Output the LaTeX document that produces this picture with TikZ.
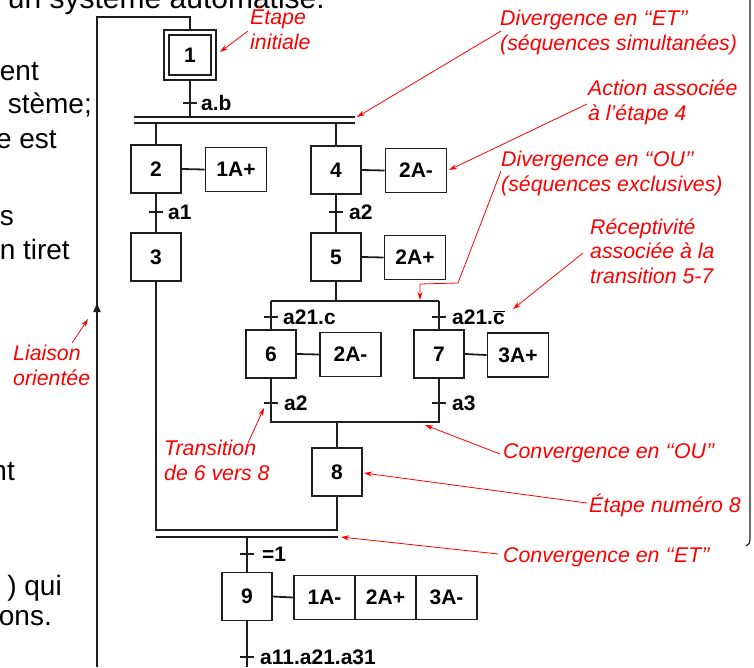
\documentclass[tikz,border=0pt]{standalone}
\usepackage{fontspec}
\setmainfont{Liberation Sans}
\usetikzlibrary{arrows.meta}
\definecolor{annot}{RGB}{255,0,0}
\definecolor{ink}{RGB}{30,30,30}
\newcommand\gtick[1]{\draw[wire] ([xshift=-7pt]#1) -- ([xshift=7pt]#1);}
\begin{document}
\begin{tikzpicture}[x=1pt,y=-1pt,
  wire/.style={draw=ink, line width=1.8pt},
  stepbox/.style={draw=ink, line width=1.9pt, fill=white, minimum width=50pt,
    minimum height=48pt, inner sep=0pt, font=\fontsize{21}{21}\selectfont\bfseries},
  actbox/.style={stepbox, minimum width=61pt, minimum height=44pt},
  cond/.style={anchor=west, inner sep=0pt, font=\fontsize{21}{21}\selectfont\bfseries},
  note/.style={text=annot, inner sep=0pt, align=left, anchor=base west,
    font=\fontsize{21.3}{24.5}\selectfont\itshape},
  pointer/.style={draw=annot, line width=0.8pt, -{Stealth[length=8pt,width=5pt]}},
  bgtext/.style={inner sep=0pt, anchor=base east, font=\fontsize{28}{28}\selectfont},
]
\useasboundingbox (0,0) rectangle (754,667);
\begin{scope}
\clip (0,0) rectangle (754,667);

% surrounding page text
\node[bgtext, font=\fontsize{30}{30}\selectfont] (bgtop) at (325,8) {un système automatisé.};
\node[bgtext] (bg1) at (39,80) {ent};
\node[bgtext] (bg2) at (92,113) {stème;};
\node[bgtext] (bg3) at (57,148) {e est};
\node[bgtext] (bg4) at (14,225) {s};
\node[bgtext] (bg5) at (70,259) {n tiret};
\node[bgtext] (bg6) at (15,480) {nt};
\node[bgtext] (bg7) at (62,595) {) qui};
\node[bgtext] (bg8) at (52,625) {ons.};
\draw[ink, line width=1.2pt] (750,-2) -- (750,538) .. controls (750,543) and (749,545) .. (746,546);

% steps and actions
\node[stepbox, minimum width=52pt, minimum height=50pt] (s1o) at (190,55) {};
\node[stepbox, minimum width=42pt, minimum height=40pt] (s1) at (190,55) {1};
\node[stepbox] (s2) at (156,169) {2};
\node[actbox] (a1) at (236,169.5) {1A+};
\node[stepbox] (s4) at (336,170) {4};
\node[actbox] (a4) at (416,170.5) {2A-};
\node[stepbox] (s3) at (156,257) {3};
\node[stepbox] (s5) at (336,257) {5};
\node[actbox] (a5) at (415,257.5) {2A+};
\node[stepbox] (s6) at (271,354) {6};
\node[actbox] (a6) at (350.5,354.5) {2A-};
\node[stepbox] (s7) at (439,354) {7};
\node[actbox] (a7) at (518,355) {3A+};
\node[stepbox] (s8) at (337,472) {8};
\node[stepbox] (s9) at (247,596.5) {9};
\node[actbox] (a9a) at (324.5,597.5) {1A-};
\node[actbox] (a9b) at (385.5,597.5) {2A+};
\node[actbox] (a9c) at (446.5,597.5) {3A-};

% return link to the initial step
\coordinate (loopA) at (190,17);
\coordinate (loopB) at (97,17);
\coordinate (loopC) at (97,667);
\coordinate (loopTip) at (97,303);
\draw[wire] (s1o.north) -- (loopA) -- (loopB) -- (loopC);
\draw[wire, -{Triangle[length=9pt,width=7pt]}] (loopC) -- (loopTip);

% divergence AND
\coordinate (etA) at (134,117); \coordinate (etB) at (355,117);
\coordinate (etC) at (134,123); \coordinate (etD) at (355,123);
\draw[wire] (s1o.south) -- (s1o.south |- etA);
\draw[wire] (etA) -- (etB);
\draw[wire] (etC) -- (etD);
\coordinate (t1) at (190,103); \gtick{t1}
\node[cond] (c1) at (201,103) {a.b};
\draw[wire] (s2.north |- etC) -- (s2.north);
\draw[wire] (s4.north |- etC) -- (s4.north);
\draw[wire] (s2.east) -- (a1.west);
\draw[wire] (s4.east) -- (a4.west);

% left and right sequences
\draw[wire] (s2.south) -- (s3.north);
\coordinate (t2) at (156,212); \gtick{t2}
\node[cond] (c2) at (168,212) {a1};
\draw[wire] (s4.south) -- (s5.north);
\coordinate (t3) at (336,212); \gtick{t3}
\node[cond] (c3) at (349,212) {a2};
\draw[wire] (s5.east) -- (a5.west);

% divergence OR
\coordinate (ouA) at (271,301); \coordinate (ouB) at (439,301);
\draw[wire] (s5.south) -- (s5.south |- ouA);
\draw[wire] (ouA) -- (ouB);
\draw[wire] (ouA) -- (s6.north);
\draw[wire] (ouB) -- (s7.north);
\coordinate (t4) at (271,317); \gtick{t4}
\node[cond] (c4) at (283,317) {a21.c};
\coordinate (t5) at (439,317); \gtick{t5}
\node[cond] (c5) at (452,317) {a21.$\overline{\mbox{c}}$};
\draw[wire] (s6.east) -- (a6.west);
\draw[wire] (s7.east) -- (a7.west);

% convergence OR
\coordinate (cuA) at (271,422); \coordinate (cuB) at (439,422);
\draw[wire] (s6.south) -- (cuA) -- (cuB) -- (s7.south);
\coordinate (t6) at (271,403); \gtick{t6}
\node[cond] (c6) at (284,403) {a2};
\coordinate (t7) at (439,403); \gtick{t7}
\node[cond] (c7) at (452,403) {a3};
\draw[wire] (s8.north |- cuA) -- (s8.north);

% convergence AND
\coordinate (ceA) at (156,530); \coordinate (ceB) at (338,530);
\coordinate (ceC) at (156,537); \coordinate (ceD) at (338,537);
\draw[wire] (s3.south) -- (ceA) -- (ceB);
\draw[wire] (s8.south) -- (s8.south |- ceA);
\draw[wire] (ceC) -- (ceD);
\draw[wire] (s9.north |- ceC) -- (s9.north);
\coordinate (t8) at (247,554); \gtick{t8}
\node[cond] (c8) at (262,554) {=1};
\draw[wire] (s9.east) -- (a9a.west);
\coordinate (end9) at (247,667);
\draw[wire] (s9.south) -- (end9);
\coordinate (t9) at (247,657); \gtick{t9}
\node[cond] (c9) at (260,657) {a11.a21.a31};

% annotations (anchored on the baseline of their last line)
\node[note] (n1) at (250,49) {Étape\\initiale};
\node[note] (n2) at (500,50) {Divergence en ‘‘ET’’\\(séquences simultanées)};
\node[note] (n3) at (588,120) {Action associée\\à l’étape 4};
\node[note] (n4) at (501,191) {Divergence en ‘‘OU’’\\(séquences exclusives)};
\node[note] (n5) at (590,283) {Réceptivité\\associée à la\\transition 5-7};
\node[note] (n6) at (13,385) {Liaison\\orientée};
\node[note] (n7) at (164,480) {Transition\\de 6 vers 8};
\node[note] (n8) at (503,458) {Convergence en ‘‘OU’’};
\node[note] (n9) at (589,512) {Étape numéro 8};
\node[note] (n10) at (503,562) {Convergence en ‘‘ET’’};

\coordinate (p1a) at (248,31);  \coordinate (p1b) at (220,52);
\coordinate (p2a) at (501,31);  \coordinate (p2b) at (357,117);
\coordinate (p3a) at (587,104); \coordinate (p3b) at (449,170);
\coordinate (p4a) at (501,171); \coordinate (p4b) at (458,283);
\coordinate (p4c) at (420,284); \coordinate (p4d) at (420,300);
\coordinate (p5a) at (583,253); \coordinate (p5b) at (513,309);
\coordinate (p6a) at (72,343);  \coordinate (p6b) at (88,319);
\coordinate (p7a) at (248,443); \coordinate (p7b) at (264,408);
\coordinate (p8a) at (500,454); \coordinate (p8b) at (425,425);
\coordinate (p9a) at (587,503); \coordinate (p9b) at (364,473);
\coordinate (p10a) at (498,554); \coordinate (p10b) at (341,537);
\draw[pointer] (p1a) -- (p1b);
\draw[pointer] (p2a) -- (p2b);
\draw[pointer] (p3a) -- (p3b);
\draw[pointer] (p4a) -- (p4b) -- (p4c) -- (p4d);
\draw[pointer] (p5a) -- (p5b);
\draw[pointer] (p6a) -- (p6b);
\draw[pointer] (p7a) -- (p7b);
\draw[pointer] (p8a) -- (p8b);
\draw[pointer] (p9a) -- (p9b);
\draw[pointer] (p10a) -- (p10b);
\end{scope}
\end{tikzpicture}
\end{document}
